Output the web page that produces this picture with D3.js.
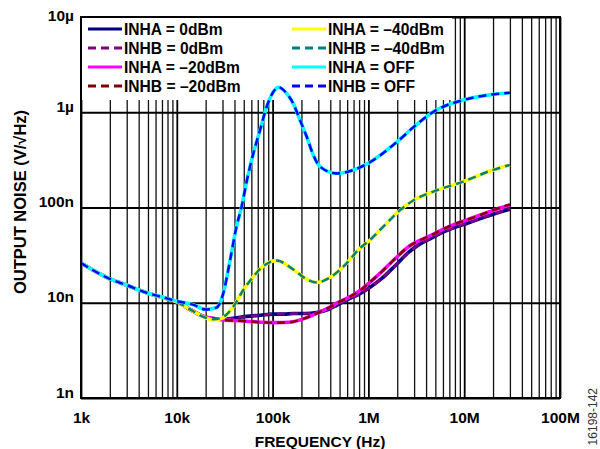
<!DOCTYPE html>
<html><head><meta charset="utf-8">
<script src="https://cdn.jsdelivr.net/npm/d3@7"></script>
<style>
html,body{margin:0;padding:0;background:#fff;}
svg{display:block;font-family:"Liberation Sans",Arial,sans-serif;font-weight:bold;}
</style></head><body>
<svg id="c" width="600" height="449"></svg>
<script>
// ---- data ----
const xTickValues = [1e3, 1e4, 1e5, 1e6, 1e7, 1e8];
const xTickLabels = ["1k", "10k", "100k", "1M", "10M", "100M"];
const yTickValues = [1e-9, 1e-8, 1e-7, 1e-6, 1e-5];
const yTickLabels = ["1n", "10n", "100n", "1µ", "10µ"];

// frequencies (Hz) and noise values (nV/√Hz)
const freqDriven = [1e3, 2e3, 3e3, 5e3, 7e3, 10e3, 15e3, 19e3, 25e3, 30.6e3, 40e3, 54e3, 75e3, 100e3, 130e3, 164e3, 220e3, 288e3, 380e3, 467e3, 593e3, 800e3, 1.05e6, 1.4e6, 1.9e6, 2.6e6, 3.4e6, 4.5e6, 6e6, 8e6, 10.6e6, 15e6, 20e6, 30e6];
const inha0dBm  = [26.1, 17.8, 15.3, 12.6, 11.4, 10.2, 8.1, 7.2, 6.8, 6.7, 6.9, 7.2, 7.4, 7.6, 7.6, 7.7, 7.7, 7.9, 8.5, 9.4, 10.7, 12.3, 14.6, 18.2, 24.5, 33.5, 41, 47.5, 55, 62, 68, 77, 85, 96];
const inhb0dBm  = [26.1, 17.8, 15.3, 12.6, 11.4, 10.2, 8.1, 7.2, 6.8, 6.7, 6.9, 7.2, 7.4, 7.6, 7.6, 7.7, 7.7, 7.9, 8.5, 9.4, 10.7, 12.3, 14.6, 18.2, 24.5, 33.5, 41, 47.5, 55, 62, 68, 77, 85, 97];
const inha20dBm = [26.1, 17.8, 15.3, 12.6, 11.4, 10.2, 8.1, 7.2, 6.8, 6.6, 6.5, 6.4, 6.25, 6.18, 6.2, 6.33, 6.9, 7.74, 8.8, 9.9, 11.1, 13.2, 16.6, 21.5, 29, 38.5, 45, 51, 59, 67, 74, 84, 93, 106];
const inhb20dBm = [26.1, 17.8, 15.3, 12.6, 11.4, 10.2, 8.1, 7.2, 6.8, 6.6, 6.5, 6.4, 6.25, 6.18, 6.2, 6.33, 6.9, 7.74, 8.8, 9.9, 11.1, 13.2, 16.6, 21.5, 29, 38.5, 45, 51, 59, 67, 74, 84, 94, 108];

const freqLow = [1e3, 2e3, 3e3, 5e3, 7e3, 10e3, 15e3, 19e3, 24e3, 30.6e3, 38.9e3, 49.5e3, 63e3, 80e3, 110e3, 164e3, 220e3, 288e3, 400e3, 547e3, 817e3, 1.04e6, 1.5e6, 2.14e6, 3e6, 4.76e6, 9.77e6, 20e6, 30e6];
const inha40dBm = [26.1, 17.8, 15.3, 12.6, 11.4, 10.2, 8.1, 7.1, 6.6, 7.0, 9.1, 13.6, 18.8, 24.3, 27.7, 22.4, 18.0, 16.3, 18.5, 23.9, 37.3, 45.6, 66, 94, 120, 147, 187, 248, 280];
const inhb40dBm = [26.1, 17.8, 15.3, 12.6, 11.4, 10.2, 8.1, 7.1, 6.7, 7.1, 9.1, 13.6, 18.8, 24.3, 27.7, 22.4, 18.0, 16.3, 18.5, 23.9, 37.3, 45.6, 66, 94, 120, 147, 187, 248, 280];

const freqOff = [1e3, 2e3, 3e3, 5e3, 7e3, 10e3, 15e3, 20e3, 26e3, 30.6e3, 36e3, 42e3, 47.5e3, 54e3, 63e3, 74e3, 87e3, 102e3, 115e3, 140e3, 164e3, 193e3, 227e3, 266e3, 313e3, 467e3, 817e3, 1e6, 2e6, 3e6, 5e6, 10e6, 20e6, 30e6];
const inhaOff = [26.1, 17.8, 15.3, 12.6, 11.5, 10.4, 9.5, 8.5, 8.9, 12.6, 28, 63, 102, 194, 371, 651, 1150, 1640, 1830, 1580, 1240, 830, 553, 356, 268, 228, 264, 292, 491, 706, 1040, 1350, 1540, 1600];
const inhbOff = [26.1, 17.8, 15.3, 12.6, 11.5, 10.4, 9.5, 8.5, 8.9, 12.6, 28, 63, 102, 194, 371, 651, 1150, 1640, 1830, 1580, 1240, 830, 553, 356, 268, 228, 264, 292, 491, 706, 1040, 1350, 1540, 1600];

const seriesNames = ["INHA = 0dBm", "INHB = 0dBm", "INHA = \u201320dBm", "INHB = \u201320dBm", "INHA = \u201340dBm", "INHB = \u201340dBm", "INHA = OFF", "INHB = OFF"];
const seriesColors = ["#000080", "#800080", "#ff00ff", "#800000", "#ffff00", "#008080", "#00ffff", "#0000ff"];

const series = [
  {name: seriesNames[0], f: freqDriven, v: inha0dBm, c: seriesColors[0], dash: false},
  {name: seriesNames[1], f: freqDriven, v: inhb0dBm, c: seriesColors[1], dash: true},
  {name: seriesNames[2], f: freqDriven, v: inha20dBm, c: seriesColors[2], dash: false},
  {name: seriesNames[3], f: freqDriven, v: inhb20dBm, c: seriesColors[3], dash: true},
  {name: seriesNames[4], f: freqLow, v: inha40dBm, c: seriesColors[4], dash: false},
  {name: seriesNames[5], f: freqLow, v: inhb40dBm, c: seriesColors[5], dash: true},
  {name: seriesNames[6], f: freqOff, v: inhaOff, c: seriesColors[6], dash: false},
  {name: seriesNames[7], f: freqOff, v: inhbOff, c: seriesColors[7], dash: true}
];

// ---- layout ----
const L = 81, R = 560, T = 17, B = 398;
const svg = d3.select("#c");
const x = d3.scaleLog().domain([1e3, 1e8]).range([L, R]);
const y = d3.scaleLog().domain([1e-9, 1e-5]).range([B, T]);

// minor vertical grid
const minor = [];
for (let d = 1e3; d < 1e8; d *= 10) for (let k = 2; k <= 9; k++) minor.push(d * k);
svg.append("g").attr("transform", `translate(0,${B})`)
  .call(d3.axisBottom(x).tickValues(minor).tickSize(-(B - T)).tickFormat(""))
  .call(g => g.select(".domain").remove())
  .call(g => g.selectAll("line").attr("stroke", "#111").attr("stroke-width", 1.3));
// major grid
svg.append("g").attr("transform", `translate(0,${B})`)
  .call(d3.axisBottom(x).tickValues(xTickValues).tickSize(-(B - T)).tickFormat(""))
  .call(g => g.select(".domain").remove())
  .call(g => g.selectAll("line").attr("stroke", "#000").attr("stroke-width", 1.8));
svg.append("g").attr("transform", `translate(${L},0)`)
  .call(d3.axisLeft(y).tickValues(yTickValues).tickSize(-(R - L)).tickFormat(""))
  .call(g => g.select(".domain").remove())
  .call(g => g.selectAll("line").attr("stroke", "#000").attr("stroke-width", 1.8));

// legend
svg.append("rect").attr("x", L).attr("y", T).attr("width", 371).attr("height", 83).attr("fill", "#fff");
const lg = svg.append("g");
series.forEach((s, i) => {
  const col = i < 4 ? 0 : 1, row = i % 4;
  const lx = col === 0 ? 88 : 292, ly = 29 + row * 19;
  lg.append("line").attr("x1", lx).attr("x2", lx + 34).attr("y1", ly).attr("y2", ly)
    .attr("stroke", s.c).attr("stroke-width", 3)
    .attr("stroke-dasharray", s.dash ? "8,5" : null);
  lg.append("text").attr("x", lx + 36).attr("y", ly + 5.5).attr("font-size", 15.6)
    .attr("fill", "#000").text(s.name);
});

// curves
const line = d3.line().x(d => x(d[0])).y(d => y(d[1] * 1e-9)).curve(d3.curveMonotoneX);
series.forEach(s => {
  const pts = s.f.map((f, i) => [f, s.v[i]]);
  svg.append("path").attr("d", line(pts)).attr("fill", "none")
    .attr("stroke", s.c).attr("stroke-width", s.dash ? 2.5 : 3.6)
    .attr("stroke-dasharray", s.dash ? "8,5" : null);
});

// border
svg.append("rect").attr("x", L).attr("y", T).attr("width", R - L).attr("height", B - T)
  .attr("fill", "none").attr("stroke", "#000").attr("stroke-width", 2);

// axis labels
svg.append("g").attr("transform", `translate(0,${B})`)
  .call(d3.axisBottom(x).tickValues(xTickValues).tickSize(0).tickPadding(0).tickFormat((d, i) => xTickLabels[i]))
  .call(g => g.select(".domain").remove())
  .call(g => g.selectAll("text").attr("dy", null).attr("y", 25).attr("font-size", 15.5)
    .attr("font-family", "'Liberation Sans', Arial, sans-serif").attr("font-weight", "bold").attr("fill", "#000"));
svg.append("g").attr("transform", `translate(${L},0)`)
  .call(d3.axisLeft(y).tickValues(yTickValues).tickSize(0).tickPadding(7).tickFormat((d, i) => yTickLabels[i]))
  .call(g => g.select(".domain").remove())
  .call(g => g.selectAll("text").attr("dy", (d, i) => i === 4 ? "0.25em" : "-0.05em").attr("font-size", 15.5)
    .attr("font-family", "'Liberation Sans', Arial, sans-serif").attr("font-weight", "bold").attr("fill", "#000"));

svg.append("text").attr("x", 320).attr("y", 447).attr("text-anchor", "middle")
  .attr("font-size", 15.5).text("FREQUENCY (Hz)");
svg.append("text").attr("transform", "translate(26,202) rotate(-90)").attr("text-anchor", "middle")
  .attr("font-size", 16.5).text("OUTPUT NOISE (V/\u221AHz)");
svg.append("text").attr("transform", "translate(597,388) rotate(-90)").attr("text-anchor", "end")
  .attr("font-size", 12).attr("font-weight", "normal").attr("fill", "#333").text("16198-142");
</script>
</body></html>
